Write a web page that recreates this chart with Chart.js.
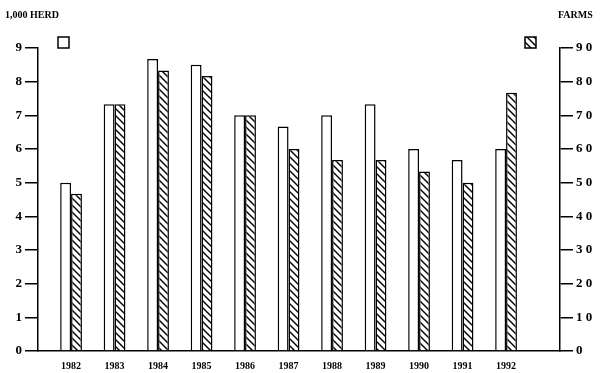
<!DOCTYPE html>
<html>
<head>
<meta charset="utf-8">
<script src="https://cdn.jsdelivr.net/npm/chart.js@4.4.0/dist/chart.umd.min.js"></script>
<style>
  body { margin: 0; background: #fff; }
  canvas { background: #fff; }
</style>
</head>
<body>
<canvas id="grafico" width="600" height="373"></canvas>
<script>
const anos = [1982, 1983, 1984, 1985, 1986, 1987, 1988, 1989, 1990, 1991, 1992];
const rebanho = [5.0, 7.33, 8.67, 8.5, 7.0, 6.67, 7.0, 7.33, 6.0, 5.67, 6.0]; // 1,000 head
const fazendas = [46.7, 73.3, 83.3, 81.7, 70, 60, 56.7, 56.7, 53.3, 50, 76.7]; // farms
const ticksEsq = [0, 1, 2, 3, 4, 5, 6, 7, 8, 9];
const ticksDir = [0, 10, 20, 30, 40, 50, 60, 70, 80, 90];

const fonte = "'Liberation Serif', serif";
const ctx = document.getElementById("grafico").getContext("2d");

// hachura "\" para a serie de fazendas
function criarHachura() {
  const c = document.createElement("canvas");
  c.width = 7;
  c.height = 7;
  const g = c.getContext("2d");
  g.fillStyle = "#fff";
  g.fillRect(0, 0, 7, 7);
  g.strokeStyle = "#000";
  g.lineWidth = 1.4;
  g.beginPath();
  g.moveTo(-1, -1); g.lineTo(8, 8);
  g.moveTo(-1, 6); g.lineTo(1, 8);
  g.moveTo(6, -1); g.lineTo(8, 1);
  g.stroke();
  return ctx.createPattern(c, "repeat");
}
const hachura = criarHachura();

const pontos = (vals) => vals.map((v, i) => ({ x: anos[i], y: v }));

const extras = {
  id: "extras",
  afterDraw(chart) {
    const { ctx: c, chartArea: a } = chart;
    c.save();
    c.fillStyle = "#000";
    c.font = "bold 10px " + fonte;
    c.textBaseline = "middle";
    c.textAlign = "left";
    c.fillText("1,000 HERD", 5, 15);
    c.fillText("FARMS", a.right - 2, 15);
    // legenda
    c.lineWidth = 1.5;
    c.strokeStyle = "#000";
    c.fillStyle = "#fff";
    c.fillRect(a.left + 20, a.top - 11, 11, 11);
    c.strokeRect(a.left + 20, a.top - 11, 11, 11);
    c.fillStyle = hachura;
    c.fillRect(a.right - 35, a.top - 11, 11, 11);
    c.strokeRect(a.right - 35, a.top - 11, 11, 11);
    c.restore();
  },
};

const eixoY = (min, max, lista, fmt) => ({
  min, max,
  afterBuildTicks: (s) => { s.ticks = lista.map((v) => ({ value: v })); },
  grid: { drawOnChartArea: false, tickLength: 13, color: "#000", lineWidth: 1.5 },
  border: { color: "#000", width: 1.5 },
  ticks: { color: "#000", padding: 3, font: { family: fonte, size: 13, weight: "bold" }, callback: fmt },
});

new Chart(ctx, {
  type: "bar",
  data: {
    datasets: [
      {
        label: "1,000 HERD",
        data: pontos(rebanho),
        backgroundColor: "#fff",
        borderColor: "#000",
        borderWidth: 1.5,
        yAxisID: "y",
      },
      {
        label: "FARMS",
        data: pontos(fazendas),
        backgroundColor: hachura,
        borderColor: "#000",
        borderWidth: 1.5,
        yAxisID: "y2",
      },
    ],
  },
  options: {
    responsive: false,
    animation: false,
    devicePixelRatio: 1,
    categoryPercentage: 0.5,
    barPercentage: 1.0,
    layout: { padding: { top: 48, left: 0, right: 0, bottom: 0 } },
    plugins: { legend: { display: false }, tooltip: { enabled: false } },
    scales: {
      x: {
        type: "linear",
        offset: false,
        min: 1981.24,
        max: 1993.24,
        afterBuildTicks: (s) => { s.ticks = anos.map((v) => ({ value: v })); },
        afterFit: (s) => { s.height = 22; },
        grid: { display: false },
        border: { color: "#000", width: 1.5 },
        ticks: {
          color: "#000",
          padding: 1,
          maxRotation: 0,
          autoSkip: false,
          font: { family: fonte, size: 10, weight: "bold" },
          callback: (v) => String(v),
        },
      },
      y: Object.assign(eixoY(0, 9, ticksEsq, (v) => String(v)), {
        position: "left",
        afterFit: (s) => { s.width = 38; },
      }),
      y2: Object.assign(eixoY(0, 90, ticksDir, (v) => String(v).split("").join(" ")), {
        position: "right",
        afterFit: (s) => { s.width = 40; },
      }),
    },
  },
  plugins: [extras],
});
</script>
</body>
</html>
